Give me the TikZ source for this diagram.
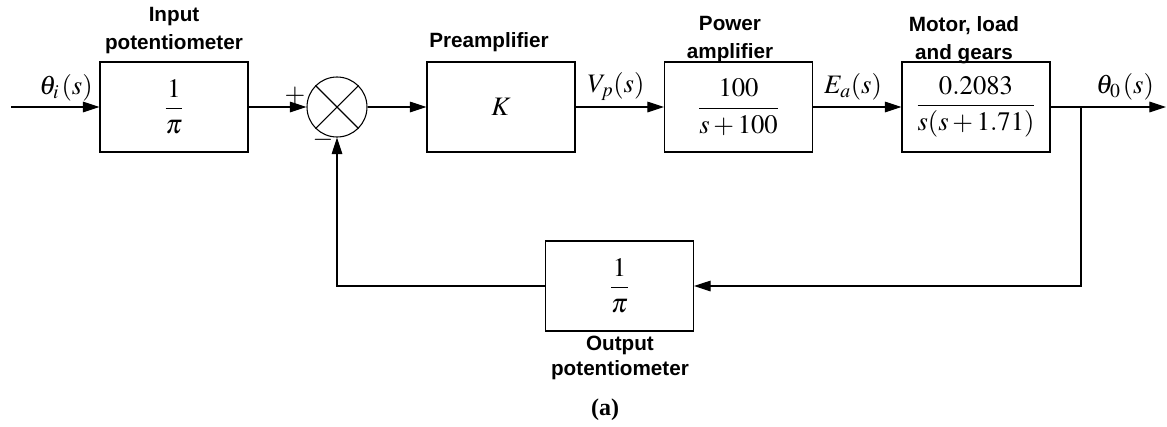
\documentclass[tikz,border=0pt]{standalone}
\usepackage{amsmath}
\usepackage{mathptmx}
\usepackage[no-math]{fontspec}
\setmainfont{Liberation Serif}
\setsansfont{Liberation Sans}
\usetikzlibrary{arrows.meta}

\begin{document}
\begin{tikzpicture}[x=0.75pt,y=0.75pt,yscale=-1,xscale=1,
  blk/.style={draw, line width=0.8pt, minimum width=111pt, minimum height=67.5pt, inner sep=0pt, font=\fontsize{20}{24}\selectfont},
  lbl/.style={align=center, inner sep=0pt, font=\sffamily\bfseries\fontsize{15.5}{21}\selectfont},
  sig/.style={inner sep=0pt, font=\fontsize{20}{24}\selectfont},
  con/.style={line width=0.8pt, -{Triangle[length=12.5pt,width=8pt]}}]
\useasboundingbox (0,0) rectangle (1167,426);

% blocks
\node [blk] (inpot) at (174,107) {$\dfrac{1}{\pi}$};
\node [draw, circle, line width=0.8pt, minimum size=45pt, inner sep=0pt] (sum) at (337,107) {};
\draw [line width=0.8pt] (sum.north west) -- (sum.south east) (sum.north east) -- (sum.south west);
\node [blk] (preamp) at (501,107) {$K$};
\node [blk] (pamp) at (738.5,107) {$\dfrac{100}{s+100}$};
\node [blk] (motor) at (976,107) {$\dfrac{0.2083}{s(s+1.71)}$};
\node [blk] (outpot) at (619.5,286) {$\dfrac{1}{\pi}$};

\coordinate (in) at (11,107);
\coordinate (branch) at (1081,107);
\coordinate (out) at (1166,107);

% connectors
\draw [con] (in) -- (inpot);
\draw [con] (inpot) -- (sum);
\draw [con] (sum) -- (preamp);
\draw [con] (preamp) -- (pamp);
\draw [con] (pamp) -- (motor);
\draw [con] (motor) -- (out);
\draw [con] (branch) |- (outpot);
\draw [con] (outpot) -| (sum);

% signals
\node [sig] (thin) at (66,88) {$\theta_{i\,}(s)$};
\node [sig] (vp) at (616,87) {$V_p(s)$};
\node [sig] (ea) at (853,87) {$E_a(s)$};
\node [sig] (thout) at (1125,87) {$\theta_{0\,}(s)$};
\node [sig] (plus) at (295,96) {$+$};
\node [sig] (minus) at (323,140) {$-$};

% block names
\node [lbl] (inpotlbl) at (174,31) {Input\\potentiometer};
\node [lbl] (preamplbl) at (489,42) {Preamplifier};
\node [lbl] (pamplbl) at (730,40) {Power\\amplifier};
\node [lbl] (motorlbl) at (964,40) {Motor, load\\and gears};
\node [lbl, font=\sffamily\bfseries\fontsize{15.5}{19}\selectfont] (outpotlbl) at (620,358) {Output\\potentiometer};
\node [inner sep=0pt, font=\bfseries\fontsize{18}{20}\selectfont] (cap) at (605,410) {(a)};
\end{tikzpicture}
\end{document}
